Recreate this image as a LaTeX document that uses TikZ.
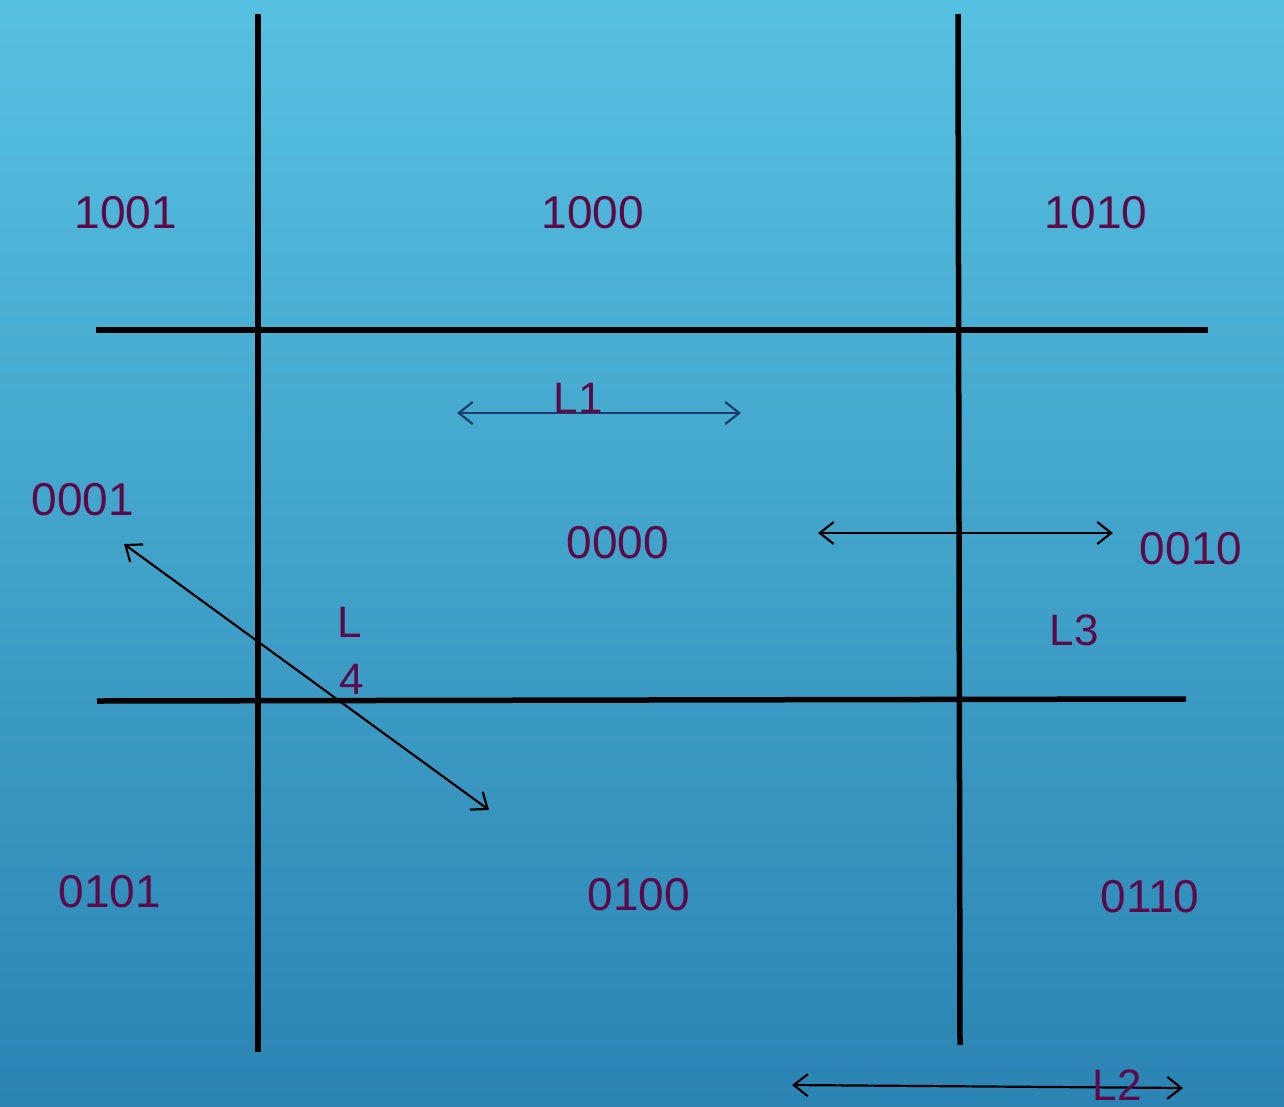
\documentclass[tikz,border=0pt]{standalone}
\usepackage{fontspec}
\setmainfont{Liberation Sans}
\usetikzlibrary{arrows.meta}
\definecolor{bgtop}{HTML}{57C1E1}
\definecolor{bgbot}{HTML}{2B84B3}
\definecolor{txt}{HTML}{5C0A4A}
\definecolor{navy}{HTML}{1B3D6E}
\tikzset{
  grid/.style={line width=5.5pt, black},
  arr/.style={line width=2.2pt, black, {Straight Barb[length=14pt,width=22pt]}-{Straight Barb[length=14pt,width=22pt]}},
  code/.style={text=txt, font=\fontsize{46}{52}\selectfont, inner sep=0pt},
  lbl/.style={text=txt, font=\fontsize{44}{50}\selectfont, inner sep=0pt}
}
\begin{document}
\begin{tikzpicture}[x=1pt,y=-1pt]
\shade[top color=bgtop, bottom color=bgbot] (0,0) rectangle (1284,1106);
\useasboundingbox (0,0) rectangle (1284,1106);
% grid lines
\coordinate (v1t) at (258,14);   \coordinate (v1b) at (258,1052);
\coordinate (v2t) at (958,14);   \coordinate (v2b) at (960,1045);
\coordinate (h1l) at (96,330);   \coordinate (h1r) at (1208,330);
\coordinate (h2l) at (97,701);   \coordinate (h2r) at (1186,699);
\draw[grid] (v1t) -- (v1b);
\draw[grid] (v2t) -- (v2b);
\draw[grid] (h1l) -- (h1r);
\draw[grid] (h2l) -- (h2r);
% arrows
\coordinate (l1a) at (457,413);  \coordinate (l1b) at (741,413);
\coordinate (l3a) at (818,533);  \coordinate (l3b) at (1113,533);
\coordinate (l2a) at (792,1085); \coordinate (l2b) at (1183,1088);
\coordinate (l4a) at (124,544);  \coordinate (l4b) at (489,810);
\draw[arr, navy] (l1a) -- (l1b);
\draw[arr] (l3a) -- (l3b);
\draw[arr] (l2a) -- (l2b);
\draw[arr] (l4a) -- (l4b);
% region codes
\node[code] (c1001) at (126,213) {1001};
\node[code] (c1000) at (593,213) {1000};
\node[code] (c1010) at (1096,213) {1010};
\node[code] (c0001) at (83,500) {0001};
\node[code] (c0000) at (618,543) {0000};
\node[code] (c0010) at (1191,549) {0010};
\node[code] (c0101) at (110,892) {0101};
\node[code] (c0100) at (639,895) {0100};
\node[code] (c0110) at (1150,897) {0110};
% line labels
\node[lbl] (L1) at (578,398) {L1};
\node[lbl] (L3) at (1074,630) {L3};
\node[lbl] (L2) at (1117,1085) {L2};
\node[lbl] (L4a) at (350,622) {L};
\node[lbl] (L4b) at (352,679) {4};
\end{tikzpicture}
\end{document}
